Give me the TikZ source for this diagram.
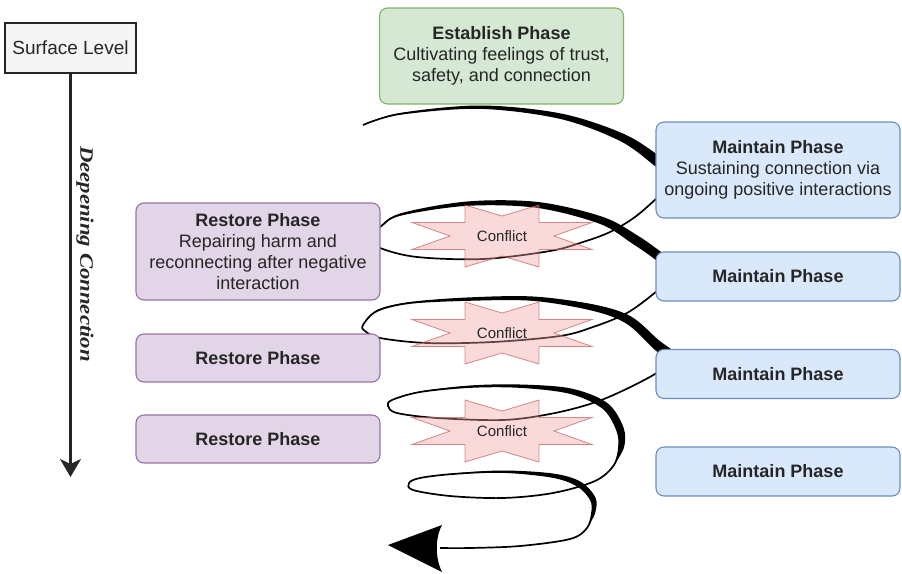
\documentclass[tikz,border=0pt]{standalone}
\usepackage{fontspec}
\setmainfont{Liberation Sans}
\newfontfamily\deepfont{Liberation Serif}
\usepackage{tikz}
\usetikzlibrary{arrows.meta,shapes,positioning}
\definecolor{estfill}{HTML}{D5E8D4}
\definecolor{estline}{HTML}{82B366}
\definecolor{mntfill}{HTML}{DAE8FC}
\definecolor{mntline}{HTML}{6C8EBF}
\definecolor{rstfill}{HTML}{E1D5E7}
\definecolor{rstline}{HTML}{9673A6}
\definecolor{cflfill}{HTML}{F0A0A0}
\definecolor{cflline}{HTML}{C85A5A}
\definecolor{ink}{HTML}{262626}
\tikzstyle{phase}=[rectangle, rounded corners=8pt, line width=1.1pt, minimum width=244pt, align=center, text=ink, font=\fontsize{18}{21}\selectfont]
\tikzstyle{establish}=[phase, draw=estline, fill=estfill, minimum height=96pt]
\tikzstyle{maintain}=[phase, draw=mntline, fill=mntfill, minimum height=49pt]
\tikzstyle{restore}=[phase, draw=rstline, fill=rstfill, minimum height=48pt]
\tikzstyle{swirl}=[draw, line width=1.7pt, line join=round]
\tikzstyle{conflict}=[fill=cflfill, fill opacity=0.4, draw=cflline, draw opacity=0.7, line width=0.8pt]

\begin{document}
\begin{tikzpicture}[x=1pt, y=-1pt]
\useasboundingbox (0,0) rectangle (902,573);

% the spiral, thin line first
\draw[swirl] plot[smooth, tension=0.55] coordinates {(363,125) (400,114) (480,108) (560,118) (620,140) (655,165) (674,182) (657,198) (635,217) (610,232) (583,242) (550,251) (483,259) (417,257) (380,248) (364,237) (380,227) (400,215) (467,205) (537,207) (600,223) (633,243) (657,260) (672,276) (657,291) (627,313) (593,327) (560,336) (493,342) (427,343) (380,338) (365,331) (363,325) (377,311) (410,303) (467,300) (533,300) (593,310) (627,323) (653,347) (668,362) (655,374) (620,392) (590,404) (550,414) (503,420) (437,418) (397,413) (388,406) (392,400) (420,392) (470,387) (520,387) (570,393) (603,408) (617,430) (619,447) (614,465) (595,481) (553,493) (503,498) (450,496) (413,490) (409,483) (420,478) (453,474) (503,472) (553,477) (578,486) (591,500) (592,513) (587,528) (570,539) (520,546) (470,548) (440,548)};
% thick back arcs
\fill plot[smooth, tension=0.55] coordinates {(363,125) (400,113) (480,105.5) (561,113.5) (624,134) (662,158) (685,176)}
  -- plot[smooth, tension=0.55] coordinates {(674,182) (655,165) (620,140) (560,118) (480,108) (400,114) (363,125)} -- cycle;
\fill plot[smooth, tension=0.55] coordinates {(380,227) (400,213.5) (467,201.5) (538,202) (602.5,216.8) (638,235.8) (662.7,253) (685,268)}
  -- plot[smooth, tension=0.55] coordinates {(672,276) (657,260) (633,243) (600,223) (537,207) (467,205) (400,215) (380,227)} -- cycle;
\fill plot[smooth, tension=0.55] coordinates {(363,325) (377,310) (410,302) (467,297.5) (533,296.5) (594.4,304.6) (631.2,316.6) (659.2,340.5) (680,355)}
  -- plot[smooth, tension=0.55] coordinates {(668,362) (653,347) (627,323) (593,310) (533,300) (467,300) (410,303) (377,311) (363,325)} -- cycle;
\fill plot[smooth, tension=0.55] coordinates {(392,400) (420,391.5) (470,385.5) (520,384.5) (571.2,388.5) (607.3,403) (623.5,427.5) (624,447.4) (614,465)}
  -- plot[smooth, tension=0.55] coordinates {(614,465) (619,447) (617,430) (603,408) (570,393) (520,387) (470,387) (420,392) (392,400)} -- cycle;
\fill plot[smooth, tension=0.55] coordinates {(420,478) (453,473.5) (503,470.5) (553.6,473.6) (580.6,481.7) (595.5,497.7) (595,513.4) (587,528)}
  -- plot[smooth, tension=0.55] coordinates {(587,528) (592,513) (591,500) (578,486) (553,477) (503,472) (453,474) (420,478)} -- cycle;
% arrow tip
\fill (388,545) -- (442,525) .. controls (435,538) and (435,558) .. (442,572) -- cycle;

% phases
\node[establish] (est) at (501.5,56) {\textbf{Establish Phase}\\Cultivating feelings of trust,\\safety, and connection};
\node[maintain, minimum height=96pt] (m1) at (778,170) {\textbf{Maintain Phase}\\Sustaining connection via\\ongoing positive interactions};
\node[maintain] (m2) at (778,276.5) {\textbf{Maintain Phase}};
\node[maintain] (m3) at (778,374) {\textbf{Maintain Phase}};
\node[maintain] (m4) at (778,471.5) {\textbf{Maintain Phase}};
\node[restore, minimum height=97pt] (r1) at (258,251.5) {\textbf{Restore Phase}\\Repairing harm and\\reconnecting after negative\\interaction};
\node[restore] (r2) at (258,358) {\textbf{Restore Phase}};
\node[restore] (r3) at (258,439) {\textbf{Restore Phase}};

% conflicts
\foreach \n/\y in {c1/236,c2/333,c3/431} {
  \draw[conflict] (502,\y) +(-37,-31) -- +(0,-20) -- +(37,-31) -- +(37,-13.5) -- +(90,-13.5) -- +(52,0) -- +(90,13.5) -- +(37,13.5) -- +(37,31) -- +(0,20) -- +(-37,31) -- +(-37,13.5) -- +(-90,13.5) -- +(-52,0) -- +(-90,-13.5) -- +(-37,-13.5) -- cycle;
  \node[font=\fontsize{15}{18}\selectfont, text=ink] (\n) at (502,\y) {Conflict};
}

% depth axis
\node[draw=ink, fill=black!4, line width=1.4pt, minimum width=131pt, minimum height=50pt, text=ink, font=\fontsize{19}{22}\selectfont] (surf) at (70.5,48) {Surface Level};
\coordinate (deep) at (70.5,477);
\draw[line width=2.2pt, draw=ink, -{Stealth[length=18pt,width=21pt,inset=5pt]}] (surf) -- (deep);
\node[rotate=-90, xscale=1.2, text=ink, font=\deepfont\bfseries\itshape\fontsize{19}{22}\selectfont] (dc) at (85,254) {Deepening Connection};
\end{tikzpicture}
\end{document}
